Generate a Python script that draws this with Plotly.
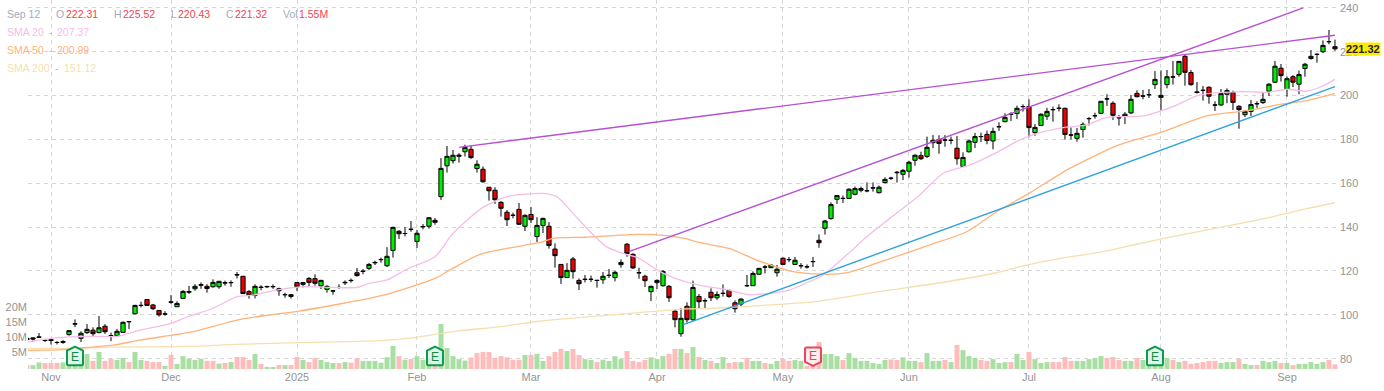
import plotly.graph_objects as go

# Candles (bar index 0..218)
opens = [89.3,89.5,89.9,88.4,88.7,87.4,87.8,91.0,95.8,89.3,91.9,93.0,91.9,94.8,90.5,90.5,92.0,96.9,100.5,104.3,107.0,104.5,102.0,100.4,105.9,103.7,107.5,110.3,111.9,113.5,113.0,112.8,112.8,114.5,114.7,118.2,117.6,110.6,108.9,112.5,112.8,112.8,111.9,109.2,109.2,114.7,113.9,116.6,116.5,113.2,111.6,110.9,112.5,114.6,
115.6,119.2,119.8,121.2,123.7,125.2,122.4,129.4,138.1,137.1,139.0,133.5,140.1,140.4,143.1,153.9,168.0,170.3,172.3,174.4,175.5,166.7,166.4,158.2,156.8,151.3,146.8,145.4,148.1,140.4,145.8,135.7,140.7,140.4,130.0,123.0,117.0,125.5,115.7,116.2,116.2,115.7,116.0,118.0,117.0,122.9,132.2,127.6,119.2,117.6,110.6,114.7,113.3,113.0,101.7,91.4,103.9,
97.8,108.4,106.5,110.3,107.8,109.8,111.2,105.5,104.9,113.3,113.3,118.5,121.8,121.5,119.2,125.8,125.2,123.0,122.4,121.9,124.3,134.0,139.5,143.9,152.7,153.1,153.1,155.0,156.8,156.6,157.9,155.7,160.3,162.3,164.8,164.1,165.5,170.5,172.6,172.3,178.5,180.0,179.7,179.6,176.0,167.7,174.4,178.7,181.3,182.3,179.3,185.8,188.1,191.5,191.8,195.0,195.0,183.1,186.4,190.6,193.6,194.2,194.2,182.0,180.5,184.5,189.5,190.8,191.9,198.5,196.5,189.9,190.6,192.1,201.0,199.8,200.4,205.0,199.2,205.0,208.5,209.7,217.9,210.5,201.7,202.4,203.8,195.7,195.7,200.6,201.4,195.1,191.3,192.8,196.3,196.8,202.0,206.1,212.5,202.9,208.6,205.2,212.4,216.9,218.8,220.0,224.6,222.31]
highs = [89.5,89.6,91.7,89.0,88.8,88.0,88.5,93.0,97.9,92.5,95.8,94.3,99.5,95.8,91.9,93.5,97.0,97.0,104.6,106.0,107.2,105.0,102.2,101.6,109.0,106.2,111.3,113.2,114.0,114.8,114.0,116.2,115.4,115.6,115.7,119.5,117.7,111.3,113.9,113.5,113.3,113.9,112.4,110.1,109.3,115.0,115.0,117.3,118.5,116.0,113.5,111.3,113.9,115.7,
116.6,121.4,120.9,123.6,124.7,126.1,130.9,140.2,138.7,140.0,142.8,138.7,141.4,144.5,144.2,171.5,177.0,175.2,173.7,177.6,177.3,170.5,167.7,158.2,158.2,151.9,147.8,146.6,151.0,145.8,149.2,144.5,144.3,142.3,132.6,123.0,123.6,126.4,116.6,118.2,117.9,116.0,119.5,120.9,120.1,125.3,132.8,128.1,121.5,118.3,113.3,116.2,120.4,113.6,102.7,103.1,105.7,
115.6,109.5,107.5,112.1,110.7,113.9,111.3,106.6,107.5,118.2,119.8,121.4,122.7,123.0,122.7,126.2,126.4,126.4,123.6,123.0,126.4,136.7,143.3,151.3,154.4,154.4,157.7,158.5,158.5,160.4,160.4,159.0,162.7,163.0,165.6,166.5,170.2,173.2,174.4,181.3,182.0,181.9,182.0,181.3,181.6,174.1,180.0,183.0,183.1,184.0,185.4,187.8,191.9,192.4,195.4,196.0,198.3,187.0,191.9,194.4,195.0,196.0,194.5,185.5,185.2,187.8,190.2,192.2,197.5,200.6,197.4,191.2,192.5,200.3,202.4,202.6,203.0,211.2,211.5,211.7,215.8,215.8,218.5,211.7,206.2,204.4,204.2,197.4,203.0,203.3,202.3,195.6,193.4,198.0,197.4,201.5,205.6,215.8,214.4,208.8,209.3,211.4,214.9,220.8,219.3,225.2,229.9,225.52]
lows = [88.5,87.8,89.8,87.6,86.5,86.5,86.8,90.5,94.4,87.6,91.3,89.9,91.6,91.3,88.0,90.0,91.9,93.5,100.2,103.4,104.0,102.2,99.2,99.6,105.0,103.6,107.2,109.5,111.0,111.9,110.1,112.4,111.9,113.3,112.8,116.6,109.5,107.4,107.5,111.2,112.2,111.9,108.7,107.8,107.4,110.9,112.5,112.8,113.3,111.8,110.1,109.2,111.9,113.6,
114.7,117.4,118.5,120.4,122.7,123.8,121.8,126.1,134.6,135.8,137.9,130.5,139.0,139.3,141.1,152.4,164.9,169.0,169.4,172.2,171.2,164.9,160.3,152.1,150.6,144.8,140.5,144.0,141.1,138.2,141.9,133.2,137.3,130.2,121.5,114.1,116.8,116.5,111.3,114.8,115.0,112.4,114.1,116.8,115.3,121.5,126.5,120.9,116.5,112.7,106.3,111.8,112.8,105.9,94.3,90.0,96.4,
97.2,103.1,103.1,106.3,106.8,108.3,107.8,101.0,103.7,112.8,113.2,118.3,118.9,121.4,117.4,122.9,124.0,122.7,121.1,121.1,121.8,130.6,136.6,143.4,150.6,151.0,153.0,154.5,155.9,155.9,156.2,155.4,160.0,161.5,160.3,161.5,162.6,168.0,170.6,171.5,176.0,173.5,176.7,177.8,168.5,167.6,174.0,176.1,178.8,177.8,175.5,183.9,187.8,188.4,189.3,192.7,181.0,181.7,186.1,188.9,188.1,192.8,179.9,180.0,179.0,180.8,186.4,189.5,191.6,195.3,188.9,186.3,187.0,191.6,199.2,198.3,198.9,203.0,193.1,203.3,205.0,208.6,204.5,204.5,200.9,197.7,196.3,193.0,195.4,196.5,193.4,184.9,190.2,190.7,194.4,196.2,199.8,205.8,206.4,199.5,203.9,200.6,208.6,216.4,215.0,219.4,223.4,220.43]
closes = [88.7,89.0,89.8,88.3,88.3,87.4,87.5,92.8,95.9,91.6,93.4,91.4,94.1,92.3,90.5,92.5,96.6,96.9,104.3,104.3,104.3,102.8,100.0,100.4,105.8,105.2,110.7,110.6,113.0,113.7,112.0,114.8,115.3,114.6,114.7,118.3,109.7,109.0,113.0,112.6,112.9,112.9,111.0,109.2,108.4,112.8,114.7,114.8,114.4,115.7,113.0,110.9,112.5,114.8,
115.7,117.9,119.9,123.0,123.9,125.2,126.7,139.9,137.0,137.1,139.0,137.2,140.3,144.3,142.2,166.8,172.3,172.8,172.8,176.4,171.7,168.7,160.7,156.6,152.5,148.6,143.4,145.4,141.3,145.4,143.4,140.8,144.0,131.6,127.0,117.0,120.3,119.7,114.2,116.2,116.2,115.7,117.6,118.0,119.4,123.9,127.9,121.4,119.2,115.6,113.0,115.7,119.8,107.8,97.8,98.4,97.8,
112.5,106.0,106.4,107.8,109.3,109.8,108.4,102.8,107.2,113.3,118.9,121.2,121.8,122.7,120.8,123.0,125.2,124.9,122.4,121.9,124.3,132.9,142.8,150.3,154.4,153.1,157.3,157.6,157.6,156.6,157.9,158.2,161.8,162.3,165.0,165.9,169.6,172.8,171.2,176.4,179.6,178.2,179.7,179.6,171.2,171.8,179.3,181.3,181.3,179.5,183.7,185.8,190.1,191.5,194.2,195.0,185.4,185.5,191.5,192.8,193.6,194.2,182.3,182.0,182.8,186.9,189.5,190.8,197.4,198.5,191.0,189.9,191.5,198.3,199.5,199.8,200.4,207.4,200.1,208.6,208.5,215.6,210.6,205.0,201.4,202.4,199.7,195.7,200.9,202.3,196.9,193.6,192.8,195.9,196.3,198.3,205.2,213.4,209.1,207.7,206.1,209.6,214.3,217.9,218.8,222.9,224.6,221.32]

# Volume in millions; bars listed in down_bars are drawn in the red tint
volumes = [1.3,1.3,2.2,2.0,2.0,2.0,2.2,1.8,1.8,2.5,5.0,2.7,5.7,2.7,3.4,3.0,3.7,2.3,5.7,3.0,2.7,2.3,2.3,1.0,4.7,1.7,4.3,3.4,3.0,3.4,2.7,2.7,1.8,2.0,2.3,4.0,4.0,3.0,5.0,1.7,0.7,0.7,1.3,1.3,1.3,4.0,3.0,2.3,3.7,3.0,2.3,2.0,2.0,2.3,
2.1,3.6,2.7,2.7,2.7,2.1,3.9,7.7,4.3,3.1,3.3,4.3,3.1,3.5,1.5,15.0,7.0,4.3,3.3,2.8,3.8,5.3,5.7,5.7,3.7,4.3,3.9,3.1,3.1,4.7,4.7,5.0,2.7,4.3,5.7,6.7,6.0,6.7,4.7,3.3,3.0,2.3,3.1,2.7,4.3,3.3,6.0,2.7,2.3,3.0,3.9,3.3,4.3,5.0,6.7,6.7,5.3,
7.3,4.0,3.0,2.7,2.0,4.0,2.0,2.3,2.3,3.7,2.7,2.7,2.0,1.7,2.7,3.4,2.7,3.0,2.7,1.0,1.0,9.0,5.0,5.0,4.3,3.0,5.3,3.7,2.7,2.7,2.0,1.7,3.0,3.2,3.0,3.9,2.7,2.7,2.3,5.3,2.7,2.7,3.0,2.3,8.0,6.3,4.3,3.7,3.0,2.7,3.3,2.0,2.3,2.3,5.0,3.0,5.7,3.3,2.0,2.3,2.3,2.3,4.0,2.7,2.7,2.7,3.3,3.7,4.3,3.7,4.0,3.0,2.7,2.7,3.7,3.0,1.5,1.5,1.5,3.7,3.0,2.3,2.7,1.7,2.0,2.3,2.7,2.7,2.0,2.3,2.3,3.4,1.7,1.3,1.3,2.7,2.3,2.7,2.0,2.0,1.3,1.7,1.7,2.3,1.7,2.3,3.0,1.55]
down_bars = [0,3,4,5,11,13,14,17,20,21,22,24,30,31,33,35,36,37,39,42,44,45,47,48,52,54,55,62,64,68,74,75,76,77,78,79,80,81,82,84,87,88,89,91,92,95,100,101,102,103,107,108,110,112,114,117,118,120,123,126,127,130,131,132,136,144,145,149,153,155,159,160,164,167,171,172,173,174,180,181,182,185,191,193,194,195,196,197,198,202,205,209,211,217,218]

# Moving averages, read at sample bars
sma20_x = [0,5,10.5,15,18.5,24,26.6,31,35,37.7,41.6,45.5,51,55,57,60,63.3,68,71,76,80,86,88.3,91,94.4,96.6,99.4,102,105,108,112,117,120.2,122,127,130.8,132.7,136.6,140,143.8,148.8,152.7,157.2,161.6,165.5,168.8,172.7,176.6,180,186,191,195.5,203,206.6,210,213.3,215.5,218]
sma20_y = [87.6,89.6,90.2,90.2,92.8,96.1,98.9,103,108.3,109,111.3,112.8,112.5,112.5,114.4,115.9,120.8,126.5,137.2,149,153.9,155.4,153.9,146.3,136.4,131,128,125.8,120.5,116.6,113.6,111.3,109.2,109.3,111.3,115.6,118.2,127.3,135.7,144,154.7,164.6,168.4,174,179.8,183.1,185.4,186.6,190.1,190.7,195,200.3,201.8,201.5,202.9,202,203.8,207.37]
sma50_x = [0,6,9.4,14.4,18.8,27.7,35,40,45,53,59.4,68,70.5,75.5,80,85.5,87.7,93,102,106.6,110,112,117,121.6,127.7,133.3,137,142,150.5,156.6,161.6,167,173.8,182,189.4,196.6,203.3,208.8,213.3,218]
sma50_y = [83.8,84.1,85,86.2,88.5,92.3,97.6,99.8,101.6,105.4,109,116.6,120.5,127.6,130.3,133,134.9,135.4,136.7,136.1,134.6,133,130.3,125,119.7,118.5,119.4,123.9,131.9,137.9,147,155.4,166.8,177.5,183.6,190.7,193.1,196,197.7,200.99]
sma200_x = [0,9,14,27,35,53,58.8,64.9,71.6,79,85.5,93.8,102,110,114.4,125.5,132.2,142,153.3,161.6,165.5,172.2,177.7,184.9,190.5,198.9,207.2,213.3,218]
sma200_y = [84.7,84.8,85.3,85.6,86.5,87.8,88.2,89.7,92.6,94.6,97.2,99.2,101,102.7,103,104.8,106.3,110.6,115.1,119.2,122,125.8,128,132.2,135.4,139.9,144.5,148.4,151.12]

# Drawn trend lines (bar index, price)
trend_a_x = [72, 218]
trend_a_y = [176.4, 227.5]
trend_b_x = [100.3, 212.7]
trend_b_y = [128.8, 240]
trend_c_x = [109.3, 218]
trend_c_y = [95.4, 204.1]

month_ticks = [4, 24, 45, 65, 84, 105, 126, 147, 167, 189, 210]
month_labels = ["Nov", "Dec", "2025", "Feb", "Mar", "Apr", "May", "Jun", "Jul", "Aug", "Sep"]
price_ticks = [80, 100, 120, 140, 160, 180, 200, 220, 240]
vol_ticks = [5, 10, 15, 20]
vol_labels = ["5M", "10M", "15M", "20M"]
earnings_up = [8, 68, 188]
earnings_down = [131]

W, H = 1384, 391
L, R, T, B = 28, 45, 0, 22
PW = W - L - R
GRID = "#d6d6d6"
TICK = "#949494"
GRAY = "#a5aabb"
RED = "#f4434f"
FONT = "Liberation Sans, Arial, sans-serif"

idx = list(range(len(closes)))
down = set(down_bars)
vol_colors = ["#ffbcbc" if i in down else "#aadfa4" for i in idx]

fig = go.Figure()
fig.add_bar(x=idx, y=volumes, marker=dict(color=vol_colors, line_width=0), yaxis="y", showlegend=False)
for xs, ys, c in [(sma200_x, sma200_y, "#f5dfae"), (sma50_x, sma50_y, "#ffb27a"), (sma20_x, sma20_y, "#f5bde8")]:
    fig.add_scatter(x=xs, y=ys, mode="lines", line=dict(color=c, width=1.3, shape="spline", smoothing=0.7), yaxis="y2", showlegend=False)
fig.add_candlestick(x=idx, open=opens, high=highs, low=lows, close=closes, yaxis="y2", showlegend=False,
                    increasing=dict(fillcolor="#00ee00", line=dict(color="#000000", width=1)),
                    decreasing=dict(fillcolor="#ee0000", line=dict(color="#000000", width=1)),
                    whiskerwidth=0)
for xs, ys, c in [(trend_a_x, trend_a_y, "#b750d2"), (trend_b_x, trend_b_y, "#b750d2"), (trend_c_x, trend_c_y, "#2ea3dd")]:
    fig.add_scatter(x=xs, y=ys, mode="lines", line=dict(color=c, width=1.4), yaxis="y2", showlegend=False)

shapes = []
annos = []
HOUSE_UP = "M -8 -8 Q -8 -9.5 -6.5 -9.5 L 6.5 -9.5 Q 8 -9.5 8 -8 L 8 5 L 0 9 L -8 5 Z"
HOUSE_DOWN = "M -8 8 Q -8 9.5 -6.5 9.5 L 6.5 9.5 Q 8 9.5 8 8 L 8 -5 L 0 -9 L -8 -5 Z"
for i in earnings_up:
    shapes.append(dict(type="path", xref="x", yref="y2", xsizemode="pixel", ysizemode="pixel", xanchor=i, yanchor=81.4,
                       path=HOUSE_UP, line=dict(color="#0c9a50", width=2), fillcolor="rgba(224,243,230,0.88)", layer="above"))
    annos.append(dict(x=i, y=81, xref="x", yref="y2", text="E", showarrow=False, font=dict(size=12, color="#0c8a48", family=FONT)))
for i in earnings_down:
    shapes.append(dict(type="path", xref="x", yref="y2", xsizemode="pixel", ysizemode="pixel", xanchor=i, yanchor=80.8,
                       path=HOUSE_DOWN, line=dict(color="#ee4455", width=2), fillcolor="rgba(255,236,238,0.9)", layer="above"))
    annos.append(dict(x=i, y=81.2, xref="x", yref="y2", text="E", showarrow=False, font=dict(size=12, color="#ee4455", family=FONT)))

def label(px, py, text, color):
    annos.append(dict(x=(px - L) / PW, y=1 - (py - T) / (H - T - B), xref="paper", yref="paper", xanchor="left", yanchor="middle",
                      text=text, showarrow=False, font=dict(size=10.5, color=color, family=FONT), borderpad=0))

for px, text, c in [(6, "Sep 12", GRAY), (55, "O", GRAY), (65, "222.31", RED), (113, "H", GRAY), (122, "225.52", RED),
                    (170, "L", GRAY), (177, "220.43", RED), (225, "C", GRAY), (234, "221.32", RED), (282, "Vol", GRAY), (298, "1.55M", RED)]:
    label(px, 14, text, c)
for py, name, val, c, dx, vx in [(32, "SMA 20", "207.37", "#f5bde8", 48, 56), (50, "SMA 50", "200.99", "#ffb27a", 48, 56), (68, "SMA 200", "151.12", "#f5dfae", 54, 63)]:
    label(6, py, name, c)
    label(dx, py, "-", "#bbbbbb")
    label(vx, py, val, c)

annos.append(dict(x=(1344.5 - L) / PW, y=closes[-1], xref="paper", yref="y2", xanchor="left", yanchor="middle", text="<b>221.32</b>",
                  showarrow=False, bgcolor="#ffea00", borderpad=0, font=dict(size=11, color="#222222", family=FONT)))

fig.update_layout(
    width=W, height=H, margin=dict(l=L, r=R, t=T, b=B, pad=0, autoexpand=False), paper_bgcolor="white", plot_bgcolor="white",
    bargap=1/6, boxgap=0, showlegend=False, hovermode=False, shapes=shapes, annotations=annos,
    font=dict(family=FONT, color=TICK, size=11),
    xaxis=dict(range=[1/6, 218.67], tickvals=month_ticks, ticktext=month_labels, showgrid=True, gridcolor=GRID, griddash="4px,4px",
               gridwidth=1, zeroline=False, showline=False, ticks="", rangeslider=dict(visible=False), tickfont=dict(size=11, color=TICK)),
    yaxis=dict(range=[0, 123], tickvals=vol_ticks, ticktext=vol_labels, showgrid=False, zeroline=False, showline=False, ticks="",
               ticklabelshift=-2, tickfont=dict(size=11, color=TICK)),
    yaxis2=dict(range=[75.3, 243.6], overlaying="y", side="right", tickvals=price_ticks, showgrid=True, gridcolor=GRID, griddash="4px,4px",
                gridwidth=1, zeroline=False, showline=False, ticks="", tickfont=dict(size=11, color=TICK)),
)
fig.write_html("out.html", config={"displayModeBar": False}, post_script="document.body.style.margin='0';document.body.style.overflow='hidden';")
